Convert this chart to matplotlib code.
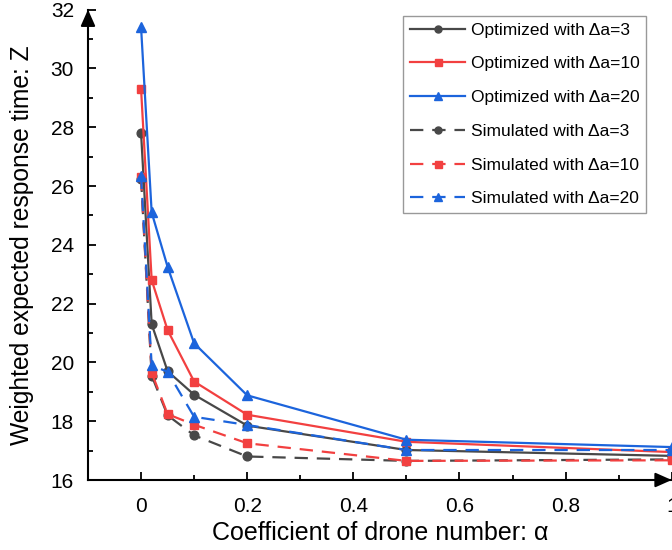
import matplotlib
matplotlib.use("Agg")
import matplotlib.pyplot as plt
from matplotlib.ticker import MultipleLocator

plt.rcParams['font.family'] = ['Liberation Sans', 'DejaVu Sans']

alpha = [0, 0.02, 0.05, 0.1, 0.2, 0.5, 1.0]
opt_da3 = [27.8, 21.3, 19.7, 18.9, 17.85, 17.02, 16.82]
opt_da10 = [29.3, 22.8, 21.1, 19.35, 18.22, 17.3, 16.95]
opt_da20 = [31.4, 25.1, 23.25, 20.65, 18.88, 17.37, 17.12]
sim_da3 = [26.25, 19.55, 18.2, 17.52, 16.8, 16.65, 16.7]
sim_da10 = [26.3, 19.65, 18.24, 17.88, 17.25, 16.65, 16.67]
sim_da20 = [26.35, 19.9, 19.68, 18.15, 17.87, 17.02, 17.02]

labels = ["Optimized with \u0394a=3", "Optimized with \u0394a=10", "Optimized with \u0394a=20",
          "Simulated with \u0394a=3", "Simulated with \u0394a=10", "Simulated with \u0394a=20"]

gray, red, blue = "#484848", "#f24040", "#1c64dc"

fig = plt.figure(figsize=(6.72, 5.5), dpi=100)
ax = fig.add_axes([88 / 672, 70 / 550, 583.7 / 672, 470.4 / 550])

lw = 1.6
ms = 6.3
ax.plot(alpha, opt_da3, '-', color=gray, marker='o', lw=lw, ms=ms, label=labels[0])
ax.plot(alpha, opt_da10, '-', color=red, marker='s', lw=lw, ms=ms, label=labels[1])
ax.plot(alpha, opt_da20, '-', color=blue, marker='^', lw=lw, ms=ms + 1, label=labels[2])
dash = (0, (6, 4))
ax.plot(alpha, sim_da3, linestyle=dash, color=gray, marker='o', lw=lw, ms=ms, label=labels[3])
ax.plot(alpha, sim_da10, linestyle=dash, color=red, marker='s', lw=lw, ms=ms, label=labels[4])
ax.plot(alpha, sim_da20, linestyle=dash, color=blue, marker='^', lw=lw, ms=ms + 1, label=labels[5])

ax.set_xlim(-0.1, 1.0)
ax.set_ylim(16, 32)
ax.xaxis.set_major_locator(MultipleLocator(0.2))
ax.xaxis.set_minor_locator(MultipleLocator(0.1))
ax.yaxis.set_major_locator(MultipleLocator(2))
ax.yaxis.set_minor_locator(MultipleLocator(1))
ax.xaxis.set_major_formatter(plt.FuncFormatter(lambda v, p: "0" if abs(v) < 1e-9 else ("1" if abs(v - 1) < 1e-9 else f"{v:.1f}")))

for s in ['top', 'right']:
    ax.spines[s].set_visible(False)
for s in ['left', 'bottom']:
    ax.spines[s].set_linewidth(1.5)

ax.tick_params(which='major', direction='in', length=6, width=1.3, labelsize=15)
ax.tick_params(which='minor', direction='in', length=3.5, width=1.3)
ax.tick_params(axis='x', which='major', pad=12)
ax.tick_params(axis='y', which='major', pad=10)

ax.set_xlabel("Coefficient of drone number: \u03b1", fontsize=18, labelpad=4)
ax.set_ylabel("Weighted expected response time: Z", fontsize=17.7, labelpad=12)

# axis arrowheads
arrow = dict(arrowstyle='-|>,head_length=0.9,head_width=0.4', color='k', lw=1.5,
             mutation_scale=11, shrinkA=0, shrinkB=0)
ax.annotate('', xy=(0, 1), xytext=(0, 0.97), xycoords='axes fraction', arrowprops=arrow,
            annotation_clip=False)
ax.annotate('', xy=(1, 0), xytext=(0.975, 0), xycoords='axes fraction', arrowprops=arrow,
            annotation_clip=False)

leg = ax.legend(loc='upper right', bbox_to_anchor=(646 / 672, 534 / 550), bbox_transform=fig.transFigure,
                fontsize=12.5, frameon=True, fancybox=False, edgecolor='#808080',
                handlelength=3.2, handletextpad=0.3, labelspacing=1.07, borderpad=0.38,
                markerscale=0.8, borderaxespad=0)
leg.get_frame().set_linewidth(1.0)

fig.savefig("out.png", dpi=100)
